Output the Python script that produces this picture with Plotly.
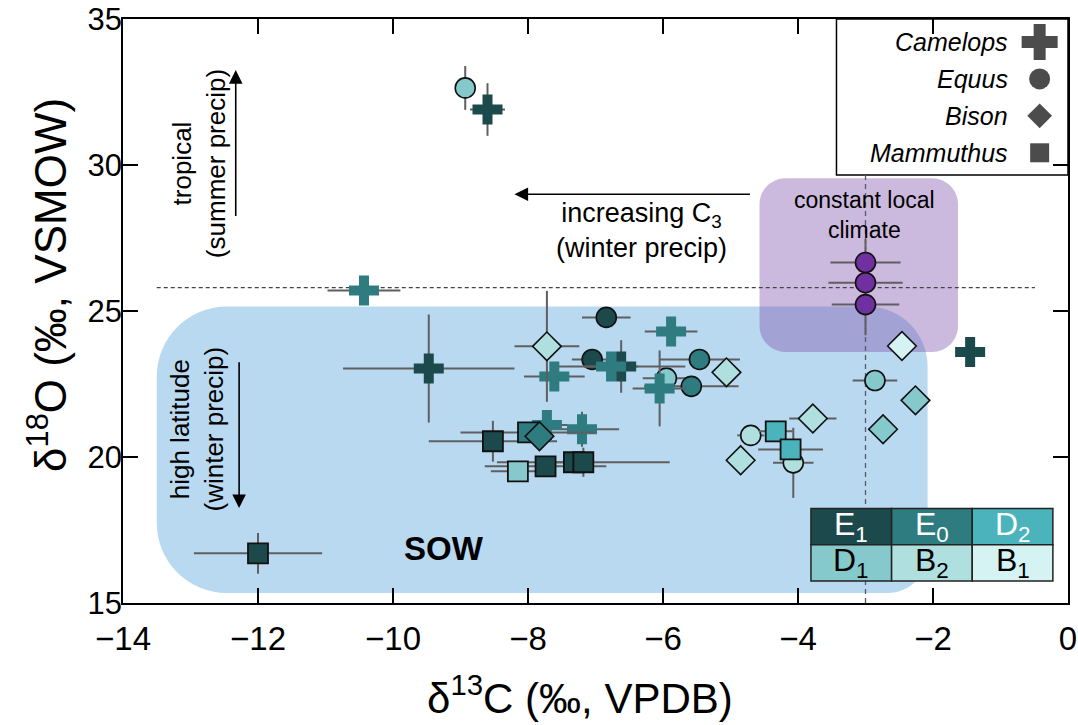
import plotly.graph_objects as go

# ---------------- data ----------------
PERIOD_COLORS = {"E1": "#1c4a4c", "E0": "#2e7c80", "D2": "#4bb3bb",
                 "D1": "#86c9cc", "B2": "#b0dfdf", "B1": "#d6f3f3", "L": "#7030a0"}

camel_x = [-8.6, -10.43, -9.47, -7.61, -6.62, -6.77, -5.88, -6.05, -7.72, -7.2, -1.45]
camel_y = [31.9, 25.7, 23.03, 22.76, 23.1, 23.1, 24.3, 22.35, 21.1, 20.95, 23.6]
camel_p = ["E1", "E0", "E1", "E0", "E1", "E0", "E0", "E0", "E0", "E0", "E1"]
camel_xe = [0.26, 0.54, 1.27, 0.45, 0.95, 0.4, 0.39, 0.4, 0.3, 0.55, 0]
camel_ye = [0.9, 0.1, 1.85, 0.15, 0.9, 0.3, 0.15, 1.3, 0.2, 0.6, 0]

equus_x = [-8.93, -6.84, -7.05, -5.46, -5.95, -5.58, -2.86, -4.70, -4.07, -3.0, -3.0, -3.0]
equus_y = [32.64, 24.78, 23.34, 23.34, 22.7, 22.42, 22.62, 20.74, 19.8, 26.66, 25.97, 25.22]
equus_p = ["D1", "E1", "E1", "E0", "D1", "E0", "D1", "B2", "B2", "L", "L", "L"]
equus_xe = [0.1, 0.36, 0.3, 0.6, 0.35, 0.7, 0.33, 0.2, 0.3, 0.52, 0.55, 0.5]
equus_ye = [0.75, 0.2, 0.2, 0.1, 0.3, 0.1, 0.1, 0.1, 1.2, 0.8, 0.1, 1.05]

mamm_x = [-12.0, -8.52, -8.0, -8.15, -7.74, -7.32, -7.18, -4.33, -4.11]
mamm_y = [16.7, 20.54, 20.84, 19.51, 19.68, 19.82, 19.82, 20.88, 20.26]
mamm_p = ["E1", "E1", "E0", "D1", "E1", "E1", "E1", "D2", "D2"]
mamm_xe = [0.95, 0.95, 1.0, 0.4, 0.9, 0.3, 1.28, 0.25, 0.48]
mamm_ye = [0.7, 0.7, 0.2, 0.3, 0.3, 0.1, 0.5, 0.2, 0.2]

bison_x = [-7.72, -5.06, -7.83, -3.78, -4.85, -2.46, -2.26, -2.74]
bison_y = [23.79, 22.9, 20.71, 21.32, 19.89, 23.8, 21.94, 20.95]
bison_p = ["B2", "B2", "E0", "B2", "B2", "B1", "D1", "D1"]
bison_xe = [0.48, 0.1, 0.2, 0.35, 0.1, 0, 0, 0]
bison_ye = [1.9, 0.1, 0.1, 0.1, 0.5, 0, 0, 0]

legend_names = ["Camelops", "Equus", "Bison", "Mammuthus"]
legend_symbols = ["cross", "circle", "diamond", "square"]
table_labels = [["E<sub>1</sub>", "E<sub>0</sub>", "D<sub>2</sub>"],
                ["D<sub>1</sub>", "B<sub>2</sub>", "B<sub>1</sub>"]]
table_codes = [["E1", "E0", "D2"], ["D1", "B2", "B1"]]

X_TITLE = "δ<sup>13</sup>C (‰, VPDB)"
Y_TITLE = "δ<sup>18</sup>O (‰, VSMOW)"

XR = [-14, 0]
YR = [15, 35]
SOW_BOX = [-13.5, -2.08, 15.34, 25.15]
LOCAL_BOX = [-4.57, -1.63, 23.6, 29.55]
REF_Y = 25.8
REF_X = -3.0

# ---------------- layout geometry ----------------
W, H = 1078, 725
ML, MR, MT, MB = 123, 10, 19, 122
PW, PH = W - ML - MR, H - MT - MB
PX_X = PW / (XR[1] - XR[0])
PX_Y = PH / (YR[1] - YR[0])
FONT = "Liberation Sans, Arial, sans-serif"

# legend box (paper coords) and the data y where it begins
LEG_BOX = [0.755, 1.0, 0.733, 1.0]
LEG_BOTTOM_Y = YR[0] + LEG_BOX[2] * (YR[1] - YR[0])


def rounded_rect(x0, x1, y0, y1, r_tl, r_tr, r_br, r_bl):
    """Path with elliptical corners; radii given in pixels (converted to data)."""
    k = 0.5523
    def r(p):
        return p / PX_X, p / PX_Y
    tlx, tly = r(r_tl); trx, try_ = r(r_tr); brx, bry = r(r_br); blx, bly = r(r_bl)
    p = f"M {x0+tlx},{y1} L {x1-trx},{y1} "
    p += f"C {x1-trx+k*trx},{y1} {x1},{y1-try_+k*try_} {x1},{y1-try_} "
    p += f"L {x1},{y0+bry} "
    p += f"C {x1},{y0+bry-k*bry} {x1-brx+k*brx},{y0} {x1-brx},{y0} "
    p += f"L {x0+blx},{y0} "
    p += f"C {x0+blx-k*blx},{y0} {x0},{y0+bly-k*bly} {x0},{y0+bly} "
    p += f"L {x0},{y1-tly} "
    p += f"C {x0},{y1-tly+k*tly} {x0+tlx-k*tlx},{y1} {x0+tlx},{y1} Z"
    return p


fig = go.Figure()

ERR = dict(type="data", color="#5f5f5f", thickness=2, width=0)


def add_species(name, xs, ys, ps, xe, ye, symbol, size, lw):
    fig.add_trace(go.Scatter(
        x=xs, y=ys, mode="markers", name=name, showlegend=False,
        error_x=dict(array=xe, **ERR), error_y=dict(array=ye, **ERR),
        marker=dict(symbol=symbol, size=size,
                    color=[PERIOD_COLORS[p] for p in ps],
                    line=dict(color="#111111", width=lw)),
        cliponaxis=False))


add_species("Equus", equus_x, equus_y, equus_p, equus_xe, equus_ye, "circle", 20, 1.6)
add_species("Camelops", camel_x, camel_y, camel_p, camel_xe, camel_ye, "cross", 25, 0)
add_species("Mammuthus", mamm_x, mamm_y, mamm_p, mamm_xe, mamm_ye, "square", 20, 1.8)
add_species("Bison", bison_x, bison_y, bison_p, bison_xe, bison_ye, "diamond", 22, 1.6)

# legend glyphs on an overlay axis spanning the plot area (paper-like coords)
LEG_X_TEXT = 0.939
LEG_X_SYM = 0.970
LEG_ROWS = [0.9607, 0.8974, 0.8342, 0.7709]
LEG_SIZES = [30, 21, 19, 19]
fig.add_trace(go.Scatter(
    x=[LEG_X_SYM] * 4, y=LEG_ROWS, mode="markers", xaxis="x2", yaxis="y2",
    showlegend=False, hoverinfo="skip",
    marker=dict(symbol=legend_symbols, size=LEG_SIZES, color="black",
                line=dict(width=0))))

shapes = []
# legend box (paper-referenced 'below' shapes sit under data-referenced ones)
shapes.append(dict(type="rect", xref="paper", yref="paper",
                   x0=LEG_BOX[0], x1=LEG_BOX[1], y0=LEG_BOX[2], y1=LEG_BOX[3],
                   fillcolor="white", line=dict(color="black", width=1.5), layer="below"))
# SOW region
shapes.append(dict(type="path", layer="below",
                   path=rounded_rect(SOW_BOX[0], SOW_BOX[1], SOW_BOX[2], SOW_BOX[3], 70, 60, 40, 70),
                   fillcolor="#b9d9f1", line=dict(width=0)))
# constant local climate region
shapes.append(dict(type="path", layer="below",
                   path=rounded_rect(LOCAL_BOX[0], LOCAL_BOX[1], LOCAL_BOX[2], LOCAL_BOX[3], 26, 26, 26, 26),
                   fillcolor="rgba(128,80,172,0.40)", line=dict(width=0)))
# dashed reference lines
shapes.append(dict(type="line", layer="below", x0=-13.5, x1=-0.49, y0=REF_Y, y1=REF_Y,
                   line=dict(color="#444444", width=1.3, dash="4px,3px")))
shapes.append(dict(type="line", layer="below", x0=REF_X, x1=REF_X, y0=YR[0], y1=LEG_BOTTOM_Y,
                   line=dict(color="#555a6a", width=1.3, dash="5px,4px")))

annotations = []
for name, yy in zip(legend_names, LEG_ROWS):
    annotations.append(dict(xref="paper", yref="paper", x=LEG_X_TEXT, y=yy, xanchor="right",
                            yanchor="middle", showarrow=False, text=f"<i>{name}</i>",
                            font=dict(family=FONT, size=25, color="black")))

# period colour table
TX0, TX1, TY0, TY1 = 0.728, 0.984, 0.0376, 0.162
cw = (TX1 - TX0) / 3
rh = (TY1 - TY0) / 2
for r_i in range(2):
    for c_i in range(3):
        code = table_codes[r_i][c_i]
        x0 = TX0 + c_i * cw
        y1 = TY1 - r_i * rh
        shapes.append(dict(type="rect", xref="paper", yref="paper", x0=x0, x1=x0 + cw,
                           y0=y1 - rh, y1=y1, fillcolor=PERIOD_COLORS[code],
                           line=dict(color="#222222", width=1.5), layer="above"))
        annotations.append(dict(xref="paper", yref="paper", x=x0 + cw / 2, y=y1 - rh / 2,
                                xanchor="center", yanchor="middle",
                                showarrow=False, text=table_labels[r_i][c_i],
                                font=dict(family=FONT, size=32,
                                          color="white" if r_i == 0 else "black")))

# axis titles (placed as annotations to match the reference offsets)
annotations += [
    dict(xref="paper", yref="paper", x=(580 - ML) / PW, y=(MT + PH - 695) / PH,
         xanchor="center", yanchor="middle", showarrow=False, text=X_TITLE,
         font=dict(family=FONT, size=42, color="black")),
    dict(xref="paper", yref="paper", x=(47 - ML) / PW, y=(MT + PH - 285) / PH,
         xanchor="center", yanchor="middle", showarrow=False, text=Y_TITLE,
         textangle=-90, font=dict(family=FONT, size=44, color="black")),
]

# explanatory texts
TXT = dict(family=FONT, size=26, color="black")
ARW = dict(showarrow=True, arrowhead=2, arrowsize=1.7, arrowwidth=1.6,
           arrowcolor="black", axref="x", ayref="y", text="")
annotations += [
    dict(x=-12.88, y=30.05, text="tropical<br>(summer precip)", textangle=-90,
         showarrow=False, font=TXT),
    dict(x=-12.33, y=33.25, ax=-12.33, ay=28.2, **ARW),
    dict(x=-12.9, y=20.95, text="high latitude<br>(winter precip)", textangle=-90,
         showarrow=False, font=TXT),
    dict(x=-12.28, y=18.25, ax=-12.28, ay=23.3, **ARW),
    dict(x=-6.32, y=27.75, text="increasing C<sub>3</sub><br>(winter precip)",
         showarrow=False, font=dict(family=FONT, size=27, color="black")),
    dict(x=-8.2, y=29.0, ax=-4.69, ay=29.0, **ARW),
    dict(x=-3.01, y=28.3, text="constant local<br>climate", showarrow=False,
         font=dict(family=FONT, size=23, color="black")),
    dict(x=-9.24, y=16.85, text="<b>SOW</b>", showarrow=False,
         font=dict(family=FONT, size=33, color="black")),
]

AX = dict(showline=True, linecolor="black", linewidth=1.5, mirror="allticks",
          ticks="inside", ticklen=15, tickwidth=1.5, tickcolor="black",
          showgrid=False, zeroline=False, automargin=False,
          ticklabeloverflow="allow")

fig.update_layout(
    width=W, height=H, margin=dict(l=ML, r=MR, t=MT, b=MB),
    plot_bgcolor="white", paper_bgcolor="white",
    xaxis=dict(range=XR, dtick=2, tick0=0, **AX, ticklabelstandoff=6,
               tickfont=dict(family=FONT, size=33, color="black")),
    yaxis=dict(range=YR, dtick=5, **AX, ticklabelstandoff=-7,
               tickfont=dict(family=FONT, size=31, color="black")),
    xaxis2=dict(range=[0, 1], overlaying="x", visible=False, fixedrange=True),
    yaxis2=dict(range=[0, 1], overlaying="y", visible=False, fixedrange=True),
    shapes=shapes, annotations=annotations, showlegend=False,
)

fig.write_html("out.html", config={"displayModeBar": False},
               post_script="document.body.style.margin='0';"
                           "document.body.style.overflow='hidden';")
